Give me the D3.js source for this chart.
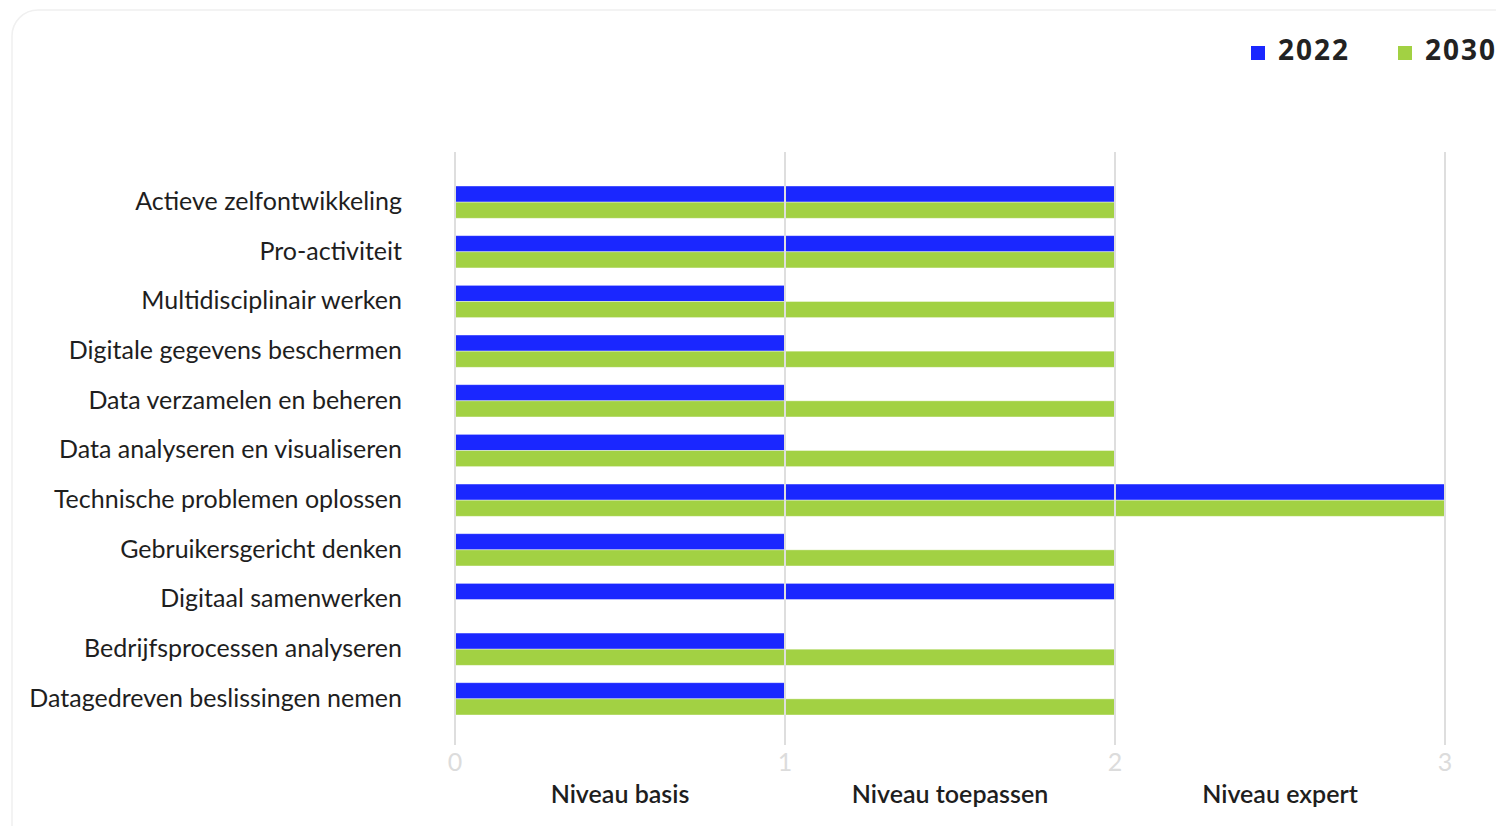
<!DOCTYPE html>
<html>
<head>
<meta charset="utf-8">
<script src="https://cdn.jsdelivr.net/npm/d3@7"></script>
<style>
  body { margin: 0; background: #fff; }
  svg { display: block; }
</style>
</head>
<body>
<svg id="chart"></svg>
<script>
// data
const skills = [
  "Actieve zelfontwikkeling",
  "Pro-activiteit",
  "Multidisciplinair werken",
  "Digitale gegevens beschermen",
  "Data verzamelen en beheren",
  "Data analyseren en visualiseren",
  "Technische problemen oplossen",
  "Gebruikersgericht denken",
  "Digitaal samenwerken",
  "Bedrijfsprocessen analyseren",
  "Datagedreven beslissingen nemen"
];
const years = ["2022", "2030"];
const values2022 = [2, 2, 1, 1, 1, 1, 3, 1, 2, 1, 1];
const values2030 = [2, 2, 2, 2, 2, 2, 3, 2, 0, 2, 2];
const ticks = [0, 1, 2, 3];
const levels = ["Niveau basis", "Niveau toepassen", "Niveau expert"];

const colors = { "2022": "#1a27ff", "2030": "#a2d143" };

const W = 1496, H = 826;
const svg = d3.select("#chart").attr("width", W).attr("height", H);

// card background
svg.append("rect")
  .attr("x", 12).attr("y", 10)
  .attr("width", W + 40).attr("height", H + 40)
  .attr("rx", 26)
  .attr("fill", "#fff")
  .attr("stroke", "#f0f0f0")
  .attr("stroke-width", 1.5);

const x = d3.scaleLinear().domain([0, 3]).range([455, 1445]);
const y = d3.scaleBand().domain(skills).range([186, 715]).paddingInner(0.35).paddingOuter(0);
const sub = d3.scaleBand().domain(years).range([0, y.bandwidth()]);

const rows = skills.map((s, i) => ({ skill: s, "2022": values2022[i], "2030": values2030[i] }));

// bars
const g = svg.append("g");
g.selectAll("g.row")
  .data(rows)
  .join("g")
  .attr("class", "row")
  .attr("transform", d => `translate(0,${y(d.skill)})`)
  .selectAll("rect")
  .data(d => years.map(k => ({ key: k, value: d[k] })))
  .join("rect")
  .attr("x", x(0))
  .attr("y", d => sub(d.key))
  .attr("width", d => x(d.value) - x(0))
  .attr("height", sub.bandwidth())
  .attr("fill", d => colors[d.key])
  .attr("stroke", "rgba(255,255,255,0.5)")
  .attr("stroke-width", 0.8);

// gridlines on top
svg.append("g")
  .selectAll("line")
  .data(ticks)
  .join("line")
  .attr("x1", d => x(d)).attr("x2", d => x(d))
  .attr("y1", 152).attr("y2", 745)
  .attr("stroke", "#dedede")
  .attr("stroke-width", 2);

// tick labels
svg.append("g")
  .selectAll("text")
  .data(ticks)
  .join("text")
  .attr("x", d => x(d))
  .attr("y", 771)
  .attr("text-anchor", "middle")
  .attr("font-family", "Lato, sans-serif")
  .attr("font-size", 25)
  .attr("fill", "#dcdcdc")
  .text(d => d);

// level labels between ticks
svg.append("g")
  .selectAll("text")
  .data(levels)
  .join("text")
  .attr("x", (d, i) => (x(i) + x(i + 1)) / 2)
  .attr("y", 803)
  .attr("text-anchor", "middle")
  .attr("font-family", "Lato, sans-serif")
  .attr("font-weight", 600)
  .attr("font-size", 25)
  .attr("fill", "#1e1e1e")
  .text(d => d);

// category labels
svg.append("g")
  .selectAll("text")
  .data(skills)
  .join("text")
  .attr("x", 402)
  .attr("y", d => y(d) + y.bandwidth() / 2 - 1)
  .attr("dy", "0.35em")
  .attr("text-anchor", "end")
  .attr("font-family", "Lato, sans-serif")
  .attr("font-size", 25)
  .attr("fill", "#1e1e1e")
  .text(d => d);

// legend
const leg = svg.append("g");
const legX = [1251, 1398];
years.forEach((k, i) => {
  leg.append("rect")
    .attr("x", legX[i]).attr("y", 46)
    .attr("width", 14).attr("height", 14)
    .attr("fill", colors[k]);
  leg.append("text")
    .attr("x", legX[i] + 27).attr("y", 60)
    .attr("font-family", "'Open Sans', sans-serif")
    .attr("font-weight", 700)
    .attr("font-size", 28)
    .attr("letter-spacing", 2)
    .attr("fill", "#222")
    .text(k);
});
</script>
</body>
</html>
